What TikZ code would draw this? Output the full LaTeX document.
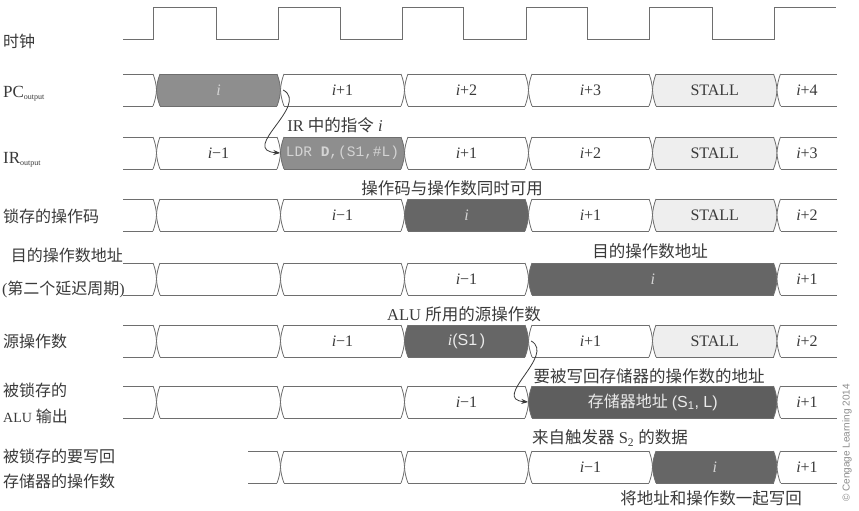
\documentclass[tikz,border=0pt]{standalone}
\usepackage{fontspec}
\setmainfont{Liberation Serif}
\setsansfont{Liberation Sans}
\setmonofont{Liberation Mono}
\newfontfamily\cjk{Noto Sans CJK SC}
\usetikzlibrary{arrows.meta}
\definecolor{busln}{HTML}{6E6E6E}
\definecolor{midfill}{HTML}{8E8E8E}
\definecolor{dkfill}{HTML}{666666}
\definecolor{alufill}{HTML}{5E5E5E}
\definecolor{stallfill}{HTML}{EEEEEE}
\definecolor{txt}{HTML}{3A3A3A}
\definecolor{lighttxt}{HTML}{D4D4D4}
\definecolor{whitetxt}{HTML}{EBEBEB}
\tikzset{
  busline/.style={draw=busln, line width=0.8pt},
  segtext/.style={font=\fontsize{16}{16}\selectfont, text=txt, inner sep=0pt},
  lab/.style={anchor=west, inner sep=0pt, font=\fontsize{16}{18}\selectfont, text=txt},
  ann/.style={inner sep=0pt, font=\fontsize{16.5}{18}\selectfont, text=txt},
  arrline/.style={draw=txt, line width=0.8pt, -{Stealth[length=7pt,width=5pt]}},
}
% #1 left x, #2 right x, #3 top y, #4 left end c/o, #5 right end c/o, #6 fill, #7 name, #8 text
\newcommand\bseg[8]{%
  \begin{scope}[shift={(#1,#3)}]
    \pgfmathsetmacro\segL{#2-#1}
    \fill[#6] (3.5,0) -- (\segL-3.5,0) .. controls (\segL-1.5,5) and (\segL-0.2,11) .. (\segL,16)
      .. controls (\segL-0.2,21) and (\segL-1.5,27) .. (\segL-3.5,32) -- (3.5,32)
      .. controls (1.5,27) and (0.2,21) .. (0,16) .. controls (0.2,11) and (1.5,5) .. cycle;
    \if c#4 \def\segla{3.5}\else\def\segla{0}\fi
    \if c#5 \pgfmathsetmacro\seglb{\segL-3.5}\else\let\seglb\segL\fi
    \draw[busline] (\segla,0) -- (\seglb,0) (\segla,32) -- (\seglb,32);
    \if c#4 \draw[busline] (3.5,0) .. controls (1.5,5) and (0.2,11) .. (0,16) .. controls (0.2,21) and (1.5,27) .. (3.5,32);\fi
    \if c#5 \draw[busline] (\segL-3.5,0) .. controls (\segL-1.5,5) and (\segL-0.2,11) .. (\segL,16) .. controls (\segL-0.2,21) and (\segL-1.5,27) .. (\segL-3.5,32);\fi
    \node[segtext, minimum width=\segL pt, minimum height=32pt] (#7) at (\segL/2,16) {#8};
  \end{scope}}
\begin{document}
\begin{tikzpicture}[x=1pt,y=-1pt]
\useasboundingbox (0,0) rectangle (859,511);
\fill[white] (0,0) rectangle (859,511);
% clock
\draw[busline] (123,39) -- (153,39) -- (153,7) -- (216,7) -- (216,39) -- (278,39) -- (278,7)
  -- (340,7) -- (340,39) -- (402,39) -- (402,7) -- (463,7) -- (463,39) -- (526,39) -- (526,7)
  -- (587,7) -- (587,39) -- (649,39) -- (649,7) -- (712,7) -- (712,39) -- (774,39) -- (774,7) -- (836,7);
% PC row
\bseg{123}{156.5}{74}{o}{c}{white}{pc0}{}
\bseg{156.5}{280.5}{74}{c}{c}{midfill}{pci}{\color{lighttxt}\textit{i}}
\bseg{280.5}{404.5}{74}{c}{c}{white}{pc2}{\textit{i}+1}
\bseg{404.5}{528.5}{74}{c}{c}{white}{pc3}{\textit{i}+2}
\bseg{528.5}{652.5}{74}{c}{c}{white}{pc4}{\textit{i}+3}
\bseg{652.5}{777}{74}{c}{c}{stallfill}{pc5}{STALL}
\bseg{777}{837}{74}{c}{o}{white}{pc6}{\textit{i}+4}
% IR row
\bseg{123}{156.5}{137}{o}{c}{white}{ir0}{}
\bseg{156.5}{280.5}{137}{c}{c}{white}{ir1}{\textit{i}−1}
\bseg{280.5}{404.5}{137}{c}{c}{midfill}{ldr}{\ttfamily\fontsize{14.5}{15}\selectfont\color{lighttxt}LDR \textbf{D},(S1,\#L)}
\bseg{404.5}{528.5}{137}{c}{c}{white}{ir3}{\textit{i}+1}
\bseg{528.5}{652.5}{137}{c}{c}{white}{ir4}{\textit{i}+2}
\bseg{652.5}{777}{137}{c}{c}{stallfill}{ir5}{STALL}
\bseg{777}{837}{137}{c}{o}{white}{ir6}{\textit{i}+3}
% latched opcode row
\bseg{123}{156.5}{199}{o}{c}{white}{lo0}{}
\bseg{156.5}{280.5}{199}{c}{c}{white}{lo1}{}
\bseg{280.5}{404.5}{199}{c}{c}{white}{lo2}{\textit{i}−1}
\bseg{404.5}{528.5}{199}{c}{c}{dkfill}{lo3}{\color{lighttxt}\textit{i}}
\bseg{528.5}{652.5}{199}{c}{c}{white}{lo4}{\textit{i}+1}
\bseg{652.5}{777}{199}{c}{c}{stallfill}{lo5}{STALL}
\bseg{777}{837}{199}{c}{o}{white}{lo6}{\textit{i}+2}
% destination address row
\bseg{123}{156.5}{263}{o}{c}{white}{da0}{}
\bseg{156.5}{280.5}{263}{c}{c}{white}{da1}{}
\bseg{280.5}{404.5}{263}{c}{c}{white}{da2}{}
\bseg{404.5}{528.5}{263}{c}{c}{white}{da3}{\textit{i}−1}
\bseg{528.5}{777}{263}{c}{c}{dkfill}{da4}{\color{lighttxt}\textit{i}}
\bseg{777}{837}{263}{c}{o}{white}{da5}{\textit{i}+1}
% source operand row
\bseg{123}{156.5}{325}{o}{c}{white}{so0}{}
\bseg{156.5}{280.5}{325}{c}{c}{white}{so1}{}
\bseg{280.5}{404.5}{325}{c}{c}{white}{so2}{\textit{i}−1}
\bseg{404.5}{528.5}{325}{c}{c}{dkfill}{s1}{\color{whitetxt}\textit{i}{\sffamily(S1\,)}}
\bseg{528.5}{652.5}{325}{c}{c}{white}{so4}{\textit{i}+1}
\bseg{652.5}{777}{325}{c}{c}{stallfill}{so5}{STALL}
\bseg{777}{837}{325}{c}{o}{white}{so6}{\textit{i}+2}
% latched ALU output row
\bseg{123}{156.5}{386}{o}{c}{white}{al0}{}
\bseg{156.5}{280.5}{386}{c}{c}{white}{al1}{}
\bseg{280.5}{404.5}{386}{c}{c}{white}{al2}{}
\bseg{404.5}{528.5}{386}{c}{c}{white}{al3}{\textit{i}−1}
\bseg{528.5}{777}{386}{c}{c}{alufill}{mem}{\color{whitetxt}{\cjk 存储器地址} {\sffamily(S\textsubscript{1}, L)}}
\bseg{777}{837}{386}{c}{o}{white}{al5}{\textit{i}+1}
% write-back operand row
\bseg{248}{280.5}{451}{o}{c}{white}{wb0}{}
\bseg{280.5}{404.5}{451}{c}{c}{white}{wb1}{}
\bseg{404.5}{528.5}{451}{c}{c}{white}{wb2}{}
\bseg{528.5}{652.5}{451}{c}{c}{white}{wb3}{\textit{i}−1}
\bseg{652.5}{777}{451}{c}{c}{dkfill}{wb4}{\color{lighttxt}\textit{i}}
\bseg{777}{837}{451}{c}{o}{white}{wb5}{\textit{i}+1}
% left labels
\node[lab] (lclk) at (3,41) {\cjk 时钟};
\node[lab, anchor=base west] (lpc) at (3,97) {\fontsize{17}{18}\selectfont PC{\fontsize{8}{8}\selectfont\raisebox{-2.5pt}{output}}};
\node[lab, anchor=base west] (lir) at (3,163) {\fontsize{17}{18}\selectfont IR{\fontsize{8}{8}\selectfont\raisebox{-2.5pt}{output}}};
\node[lab] (llat) at (3,216) {\cjk 锁存的操作码};
\node[lab, anchor=east] (ldst1) at (123,255) {\cjk 目的操作数地址};
\node[lab, anchor=east] (ldst2) at (125,289) {({\cjk 第二个延迟周期})};
\node[lab] (lsrc) at (3,341) {\cjk 源操作数};
\node[lab] (lalu1) at (3,390) {\cjk 被锁存的};
\node[lab] (lalu2) at (3,416) {{\fontsize{14}{16}\selectfont ALU} {\cjk 输出}};
\node[lab] (lwb1) at (3,456) {\cjk 被锁存的要写回};
\node[lab] (lwb2) at (3,481) {\cjk 存储器的操作数};
% annotations
\node[ann] (aIR) at (335,125) {IR {\cjk 中的指令} \textit{i}};
\node[ann] (aop) at (452,188) {\cjk 操作码与操作数同时可用};
\node[ann] (adst) at (650,251) {\cjk 目的操作数地址};
\node[ann] (asrc) at (464,314) {ALU {\cjk 所用的源操作数}};
\node[ann] (awb) at (649,376) {\cjk 要被写回存储器的操作数的地址};
\node[ann] (aff) at (610,438) {{\cjk 来自触发器} S\textsubscript{2} {\cjk 的数据}};
\node[ann] (atog) at (711,498) {\cjk 将地址和操作数一起写回};
\node[rotate=90, inner sep=0pt, text=black!45, font=\sffamily\fontsize{10}{12}\selectfont] (copy) at (847,443) {© Cengage Learning 2014};
% arrows
\draw[arrline] ([xshift=2.5pt]pci.east) .. controls +(27,15) and +(-42,-3) .. (ldr.west);
\draw[arrline] ([xshift=2.5pt]s1.east) .. controls +(25,14) and +(-38,-3) .. (mem.west);
\end{tikzpicture}
\end{document}
